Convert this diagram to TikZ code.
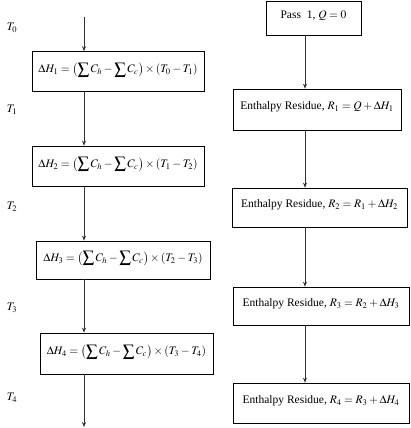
\documentclass[tikz,border=0pt]{standalone}
\usepackage{mathptmx}
\usepackage{fontspec}
\setmainfont{Liberation Serif}
\usetikzlibrary{arrows.meta}
\newcommand{\lowpad}{\rule[-7pt]{0pt}{0pt}}

\begin{document}
\begin{tikzpicture}[x=1pt, y=-1pt, font=\fontsize{11.5}{13}\selectfont,
    box/.style={draw, rectangle, line width=0.7pt, inner sep=2pt, minimum height=40pt},
    flow/.style={-{Stealth[length=5pt, width=4pt]}, line width=0.7pt, draw=black!80}]
      \useasboundingbox (0,0) rectangle (410,428);
      % temperature intervals
      \node (t0) at (12,28) {$T_0$};
      \node (t1) at (12,110) {$T_1$};
      \node (t2) at (12,207) {$T_2$};
      \node (t3) at (12,308) {$T_3$};
      \node (t4) at (12,398) {$T_4$};
      % left column
      \coordinate (top) at (84,17);
      \coordinate (bottom) at (84,427);
      \node[box, minimum width=172pt] (dh1) at (118,71.5) {$\displaystyle\Delta H_1=\left(\sum C_h-\sum C_c\right)\times\left(T_0-T_1\right)$\lowpad};
      \node[box, minimum width=172pt] (dh2) at (118,166) {$\displaystyle\Delta H_2=\left(\sum C_h-\sum C_c\right)\times\left(T_1-T_2\right)$\lowpad};
      \node[box, minimum width=174pt, minimum height=38pt] (dh3) at (123,260) {$\displaystyle\Delta H_3=\left(\sum C_h-\sum C_c\right)\times\left(T_2-T_3\right)$\lowpad};
      \node[box, minimum width=173pt, minimum height=41pt] (dh4) at (126.5,353.5) {$\displaystyle\Delta H_4=\left(\sum C_h-\sum C_c\right)\times\left(T_3-T_4\right)$\lowpad};
      \draw[flow] (top) -- (top |- dh1.north);
      \draw[flow] (top |- dh1.south) -- (top |- dh2.north);
      \draw[flow] (top |- dh2.south) -- (top |- dh3.north);
      \draw[flow] (top |- dh3.south) -- (top |- dh4.north);
      \draw[flow] (top |- dh4.south) -- (bottom);
      % right column
      \coordinate (mid) at (305,0);
      \node[box, minimum width=95pt, minimum height=34pt] (pass) at (313.5,18) {Pass\ \ 1,\ $Q=0$\lowpad};
      \node[box, minimum width=168pt, minimum height=41pt] (r1) at (317,109.5) {Enthalpy Residue,\ $R_1=Q+\Delta H_1$\lowpad};
      \node[box, minimum width=175pt, minimum height=39pt] (r2) at (319.5,207.5) {Enthalpy Residue,\ $R_2=R_1+\Delta H_2$\lowpad};
      \node[box, minimum width=176pt, minimum height=38pt] (r3) at (321,306) {Enthalpy Residue,\ $R_3=R_2+\Delta H_3$\lowpad};
      \node[box, minimum width=176pt] (r4) at (321,403) {Enthalpy Residue,\ $R_4=R_3+\Delta H_4$\lowpad};
      \draw[flow] (mid |- pass.south) -- (mid |- r1.north);
      \draw[flow] (mid |- r1.south) -- (mid |- r2.north);
      \draw[flow] (mid |- r2.south) -- (mid |- r3.north);
      \draw[flow] (mid |- r3.south) -- (mid |- r4.north);
    \end{tikzpicture}
\end{document}
